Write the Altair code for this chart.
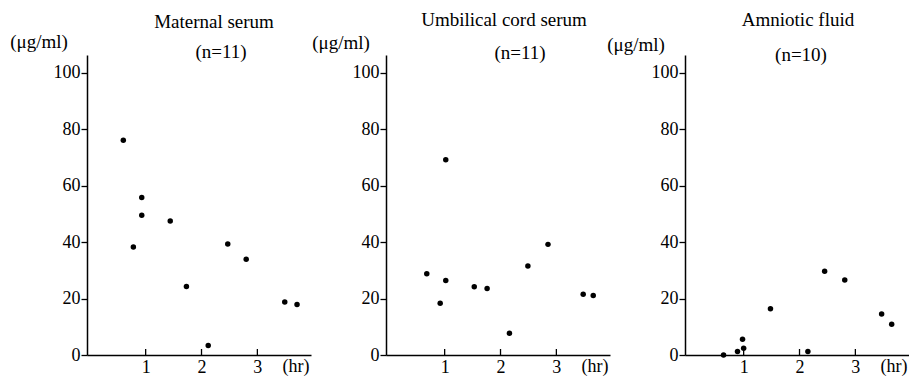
import altair as alt
import pandas as pd

# ---- data ----
panel_titles = ["Maternal serum", "Umbilical cord serum", "Amniotic fluid"]
panel_n = ["(n=11)", "(n=11)", "(n=10)"]
unit_label = "(\u03bcg/ml)"
x_unit_label = "(hr)"

maternal_hr = [0.60, 0.78, 0.93, 0.93, 1.44, 1.73, 2.12, 2.47, 2.80, 3.49, 3.71]
maternal_val = [76.1, 38.3, 55.8, 49.5, 47.5, 24.3, 3.4, 39.3, 33.9, 18.8, 17.9]

cord_hr = [0.68, 0.92, 1.02, 1.02, 1.53, 1.76, 2.16, 2.49, 2.85, 3.48, 3.66]
cord_val = [28.8, 18.3, 69.2, 26.4, 24.2, 23.6, 7.7, 31.5, 39.2, 21.5, 21.1]

amnio_hr = [0.64, 0.89, 0.98, 1.00, 1.48, 2.15, 2.45, 2.81, 3.47, 3.65]
amnio_val = [0.0, 1.2, 5.6, 2.4, 16.4, 1.2, 29.7, 26.6, 14.5, 10.9]

y_ticks = [0, 20, 40, 60, 80, 100]
x_ticks = [1, 2, 3]

# ---- layout / style ----
W, H = 224, 300
FONT = "Liberation Serif"
xs = alt.Scale(domain=[-0.05, 3.96], nice=False, zero=False)
ys = alt.Scale(domain=[0, 106.3], nice=False)


def text_layer(label, x, y, size):
    return alt.Chart(pd.DataFrame({"t": [label]})).mark_text(
        font=FONT, fontSize=size, color="black", align="center", baseline="middle"
    ).encode(text="t:N", x=alt.value(x), y=alt.value(y))


def panel(hr, val, title, n_label, title_pos, n_pos, unit_pos):
    df = pd.DataFrame({"hr": hr, "val": val})
    pts = alt.Chart(df).mark_circle(size=30, color="black", opacity=1).encode(
        x=alt.X("hr:Q", scale=xs, axis=alt.Axis(
            values=x_ticks, title=None, ticks=False, grid=False, format="d",
            labelFont=FONT, labelFontSize=18, labelColor="black", labelPadding=3,
            domainColor="black", domainWidth=1.5)),
        y=alt.Y("val:Q", scale=ys, axis=alt.Axis(
            values=y_ticks, title=None, grid=False, tickSize=6, tickColor="black",
            tickWidth=1.3, labelFont=FONT, labelFontSize=18, labelColor="black",
            labelPadding=1, domainColor="black", domainWidth=1.5)),
    )
    xt = alt.Chart(pd.DataFrame({"t": x_ticks})).mark_rule(
        color="black", strokeWidth=1.3
    ).encode(x=alt.X("t:Q", scale=xs), y=alt.value(H), y2=alt.value(H - 6))
    layers = [
        xt,
        pts,
        text_layer(title, title_pos[0], title_pos[1], 19),
        text_layer(n_label, n_pos[0], n_pos[1], 19),
        text_layer(unit_label, unit_pos[0], unit_pos[1], 19),
        text_layer(x_unit_label, W - 15, H + 12, 18),
    ]
    return alt.layer(*layers).properties(width=W, height=H)


p1 = panel(maternal_hr, maternal_val, panel_titles[0], panel_n[0],
           (W / 2 + 15, -33), (W / 2 + 22, -3), (-48, -13))
p2 = panel(cord_hr, cord_val, panel_titles[1], panel_n[1],
           (W / 2 + 6, -35), (W / 2 + 22, -2), (-45, -12))
p3 = panel(amnio_hr, amnio_val, panel_titles[2], panel_n[2],
           (W / 2 + 1, -35), (W / 2 + 4, 0), (-49, -10))

chart = alt.hconcat(p1, p2, p3, spacing=75, bounds="flush").properties(
    padding={"left": 10, "top": 11, "right": 0, "bottom": 0},
    background="white",
).configure_view(stroke=None)

chart.save("out.html", embed_options={"renderer": "svg", "actions": False})
